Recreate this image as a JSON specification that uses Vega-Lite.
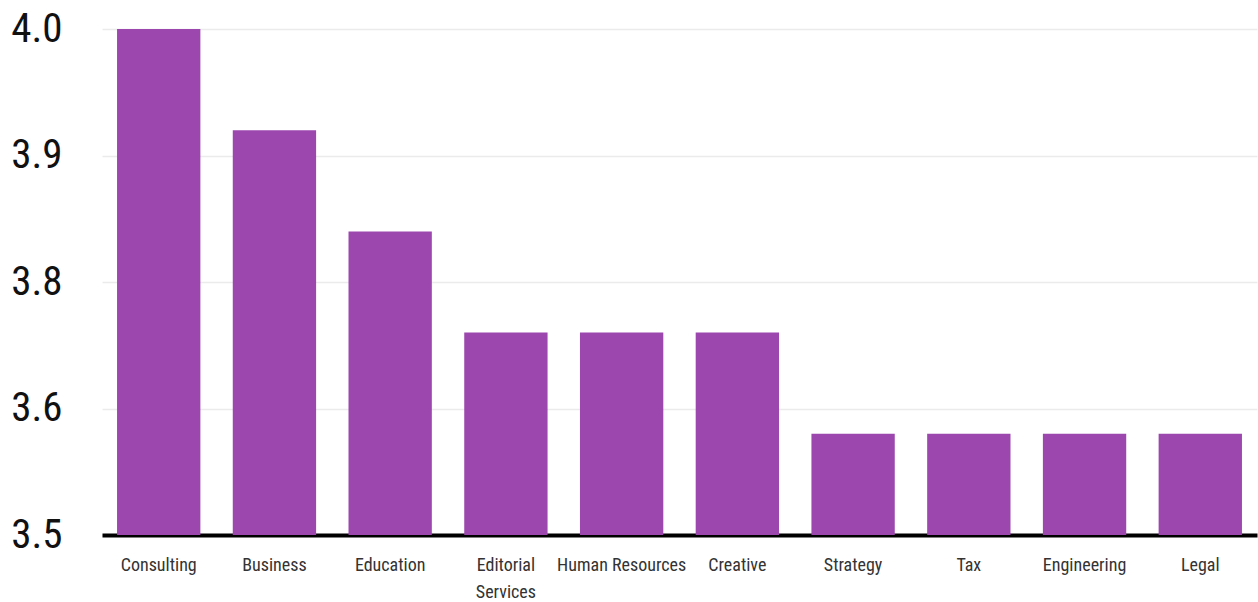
{
  "$schema": "https://vega.github.io/schema/vega-lite/v6.json",
  "width": 1155,
  "height": 506,
  "autosize": {"type": "none"},
  "padding": {"left": 102, "top": 29, "right": 1, "bottom": 67},
  "background": "white",
  "config": {
    "view": {"stroke": null},
    "font": "Roboto Condensed, Liberation Sans Narrow, Roboto"
  },
  "data": {
    "values": [
      {"category": "Consulting", "value": 4.0},
      {"category": "Business", "value": 3.9},
      {"category": "Education", "value": 3.8},
      {"category": "Editorial Services", "value": 3.7},
      {"category": "Human Resources", "value": 3.7},
      {"category": "Creative", "value": 3.7},
      {"category": "Strategy", "value": 3.6},
      {"category": "Tax", "value": 3.6},
      {"category": "Engineering", "value": 3.6},
      {"category": "Legal", "value": 3.6}
    ]
  },
  "mark": {"type": "bar", "color": "#9c47ae", "clip": true},
  "encoding": {
    "x": {
      "field": "category",
      "type": "nominal",
      "sort": null,
      "scale": {"paddingInner": 0.28, "paddingOuter": 0.13},
      "axis": {
        "title": null,
        "labelAngle": 0,
        "labelFontSize": 18,
        "labelColor": "#333333",
        "labelFont": "Roboto Condensed, Liberation Sans Narrow, Roboto",
        "labelPadding": 21,
        "labelLineHeight": 27,
        "ticks": false,
        "domainColor": "#000000",
        "domainWidth": 4,
        "labelExpr": "datum.label == 'Editorial Services' ? ['Editorial', 'Services'] : datum.label"
      }
    },
    "y": {
      "field": "value",
      "type": "quantitative",
      "scale": {"domain": [3.5, 4.0], "zero": false, "nice": false},
      "axis": {
        "title": null,
        "values": [3.5, 3.625, 3.75, 3.875, 4.0],
        "format": ".1f",
        "labelFontSize": 41,
        "labelColor": "#111111",
        "labelFont": "Roboto Condensed, Liberation Sans Narrow, Roboto",
        "labelPadding": 40,
        "ticks": false,
        "domain": false,
        "gridColor": "#ebebeb",
        "gridWidth": 1.5
      }
    }
  }
}
